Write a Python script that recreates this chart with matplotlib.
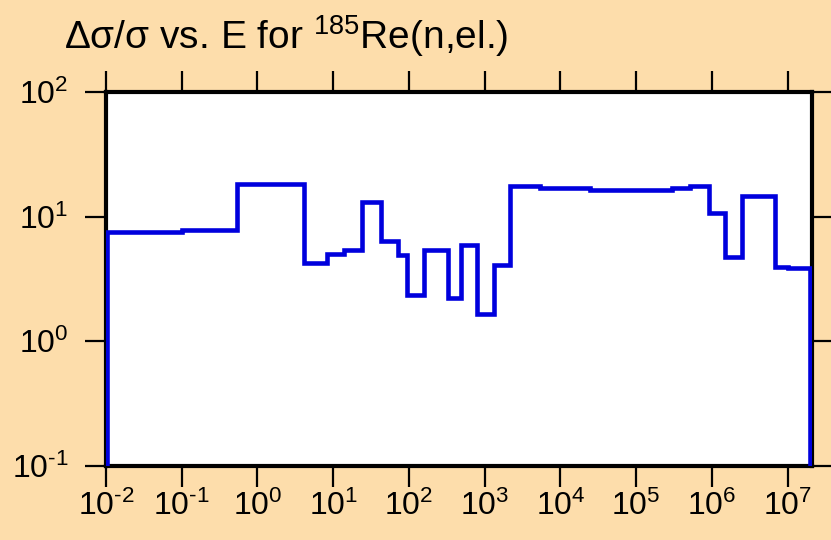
import matplotlib
matplotlib.use("Agg")
import matplotlib.pyplot as plt
import numpy as np

plt.rcParams['font.family'] = ['Liberation Sans', 'DejaVu Sans']
plt.rcParams['mathtext.fontset'] = 'custom'
plt.rcParams['mathtext.rm'] = 'Liberation Sans'
plt.rcParams['mathtext.it'] = 'Liberation Sans'
plt.rcParams['mathtext.bf'] = 'Liberation Sans'
plt.rcParams['axes.unicode_minus'] = False

# Energy group boundaries (eV) and relative uncertainty (%)
energy_edges = [1.02e-2, 0.1, 0.54, 4.07, 8.4, 13.8, 23.8, 42.6, 71.5, 94, 158, 329,
                489, 797, 1337, 2180, 5400, 24500, 3.0e5, 5.2e5, 9.1e5, 1.49e6,
                2.5e6, 6.8e6, 1.0e7, 1.97e7]
rel_unc = [7.5, 7.8, 18.2, 4.2, 5.0, 5.4, 13.1, 6.4, 4.9, 2.34, 5.4, 2.21,
           5.9, 1.65, 4.07, 17.6, 16.9, 16.3, 16.9, 17.6, 10.7, 4.7, 14.6,
           3.93, 3.85]
x_exps = list(range(-2, 8))
y_exps = list(range(-1, 3))


def sci_label(k):
    s = str(k).replace('-', r'\text{-}')
    return r'$10^{%s}$' % s


bg = '#FDDDAB'
fig = plt.figure(figsize=(8.31, 5.40), dpi=100, facecolor=bg)
ax = fig.add_axes([106/831, 1-465.5/540, (812-106)/831, (465.5-92)/540])
ax.set_facecolor('white')

ax.stairs(rel_unc, energy_edges, baseline=0.1, color='#0000DD', linewidth=3.3,
          zorder=3)

ax.set_xscale('log')
ax.set_yscale('log')
ax.set_xlim(1e-2, 2.1e7)
ax.set_ylim(0.1, 100)

ax.set_xticks([10.0**k for k in x_exps])
ax.set_xticklabels([sci_label(k) for k in x_exps])
ax.set_yticks([10.0**k for k in y_exps])
ax.set_yticklabels([sci_label(k) for k in y_exps])
ax.minorticks_off()

for s in ax.spines.values():
    s.set_linewidth(3.0)
    s.set_color('black')
    s.set_zorder(2.5)

ax.tick_params(which='major', direction='out', length=15, width=1.6,
               top=True, right=True, labelsize=23, pad=3, colors='black')
ax.tick_params(axis='y', pad=12)

fig.text(64/831, 1-49/540, 'Δσ/σ vs. E for $^{185}$Re(n,el.)', fontsize=28,
         ha='left', va='baseline')

fig.savefig('out.png', dpi=100, facecolor=bg)
